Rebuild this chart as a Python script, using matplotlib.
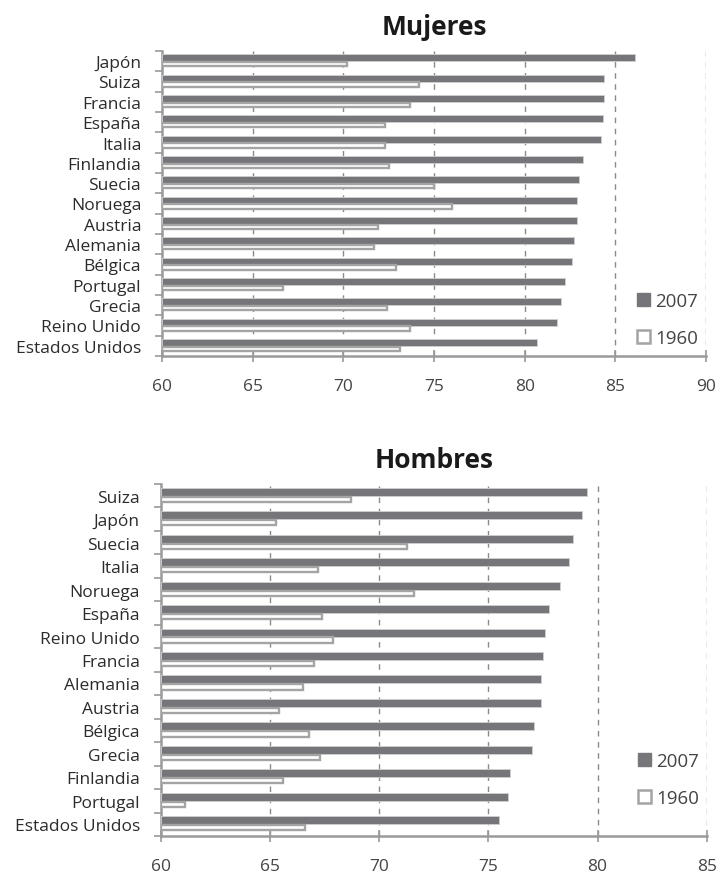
import numpy as np
import matplotlib
matplotlib.use("Agg")
import matplotlib.pyplot as plt
from matplotlib.patches import Patch

plt.rcParams['font.family'] = ['Open Sans', 'DejaVu Sans']

# esperanza de vida al nacer, mujeres
paises_m = ["Japón", "Suiza", "Francia", "España", "Italia", "Finlandia", "Suecia",
            "Noruega", "Austria", "Alemania", "Bélgica", "Portugal", "Grecia",
            "Reino Unido", "Estados Unidos"]
m_2007 = [86.1, 84.4, 84.4, 84.3, 84.2, 83.2, 83.0, 82.9, 82.9, 82.7, 82.6, 82.2, 82.0, 81.8, 80.7]
m_1960 = [70.2, 74.2, 73.7, 72.3, 72.3, 72.5, 75.0, 76.0, 71.9, 71.7, 72.9, 66.7, 72.4, 73.7, 73.1]

# esperanza de vida al nacer, hombres
paises_h = ["Suiza", "Japón", "Suecia", "Italia", "Noruega", "España", "Reino Unido",
            "Francia", "Alemania", "Austria", "Bélgica", "Grecia", "Finlandia",
            "Portugal", "Estados Unidos"]
h_2007 = [79.5, 79.3, 78.9, 78.7, 78.3, 77.8, 77.6, 77.5, 77.4, 77.4, 77.1, 77.0, 76.0, 75.9, 75.5]
h_1960 = [68.7, 65.3, 71.3, 67.2, 71.6, 67.4, 67.9, 67.0, 66.5, 65.4, 66.8, 67.3, 65.6, 61.1, 66.6]

x_m = [60, 65, 70, 75, 80, 85, 90]
x_h = [60, 65, 70, 75, 80, 85]

OSCURO = "#76767a"
BORDE = "#a4a4a4"
EJE = "#9a9a9a"
TEXTO = "#2b2b2b"


def panel(ax, paises, v2007, v1960, xticks, titulo, legend_y):
    n = len(paises)
    y = np.arange(n)
    base = xticks[0]
    ax.barh(y - 0.17, np.array(v2007) - base, left=base, height=0.34,
            color=OSCURO, edgecolor="#d0d0d0", linewidth=0.6, zorder=3)
    ax.barh(y + 0.15, np.array(v1960) - base, left=base, height=0.22,
            color="white", edgecolor=BORDE, linewidth=1.7, zorder=3)

    ax.set_xlim(xticks[0], xticks[-1])
    ax.set_ylim(n - 0.5, -0.5)

    for xv in xticks[1:]:
        ax.axvline(xv, color="#8a8a8a", linestyle=(0, (4, 4)), linewidth=1.0, zorder=1)

    ax.set_xticks(xticks)
    ax.set_xticklabels([str(v) for v in xticks], fontsize=12.5, color="#444444")
    ax.tick_params(axis="x", direction="inout", length=9, width=1.2, color=EJE, pad=11)

    ax.set_yticks(np.arange(n + 1) - 0.5)
    ax.set_yticklabels([])
    ax.set_yticks(y, minor=True)
    ax.set_yticklabels(paises, minor=True, fontsize=12.5, color=TEXTO)
    ax.tick_params(axis="y", which="major", direction="out", length=5, width=1.2, color=EJE)
    ax.tick_params(axis="y", which="minor", length=0, pad=15)

    for s in ["top", "right"]:
        ax.spines[s].set_visible(False)
    for s in ["left", "bottom"]:
        ax.spines[s].set_color(EJE)
        ax.spines[s].set_linewidth(1.8)

    ax.set_title(titulo, fontsize=19, fontweight="bold", color="#1a1a1a", pad=12)

    handles = [Patch(facecolor=OSCURO, edgecolor=OSCURO, label="2007"),
               Patch(facecolor="white", edgecolor=BORDE, linewidth=1.8, label="1960")]
    ax.legend(handles=handles, loc="center right", bbox_to_anchor=(1.0, legend_y),
              frameon=False, fontsize=13.5, handlelength=0.7, handleheight=0.7,
              handletextpad=0.3, labelspacing=1.0, labelcolor="#444444",
              borderaxespad=0.0)


fig = plt.figure(figsize=(7.18, 8.79), dpi=100)
ax1 = fig.add_axes([162 / 718, (879 - 357) / 879, 544 / 718, 305 / 879])
ax2 = fig.add_axes([160.7 / 718, (879 - 837) / 879, 546 / 718, 352 / 879])

panel(ax1, paises_m, m_2007, m_1960, x_m, "Mujeres", 0.12)
panel(ax2, paises_h, h_2007, h_1960, x_h, "Hombres", 0.16)

fig.savefig("out.png", dpi=100)
